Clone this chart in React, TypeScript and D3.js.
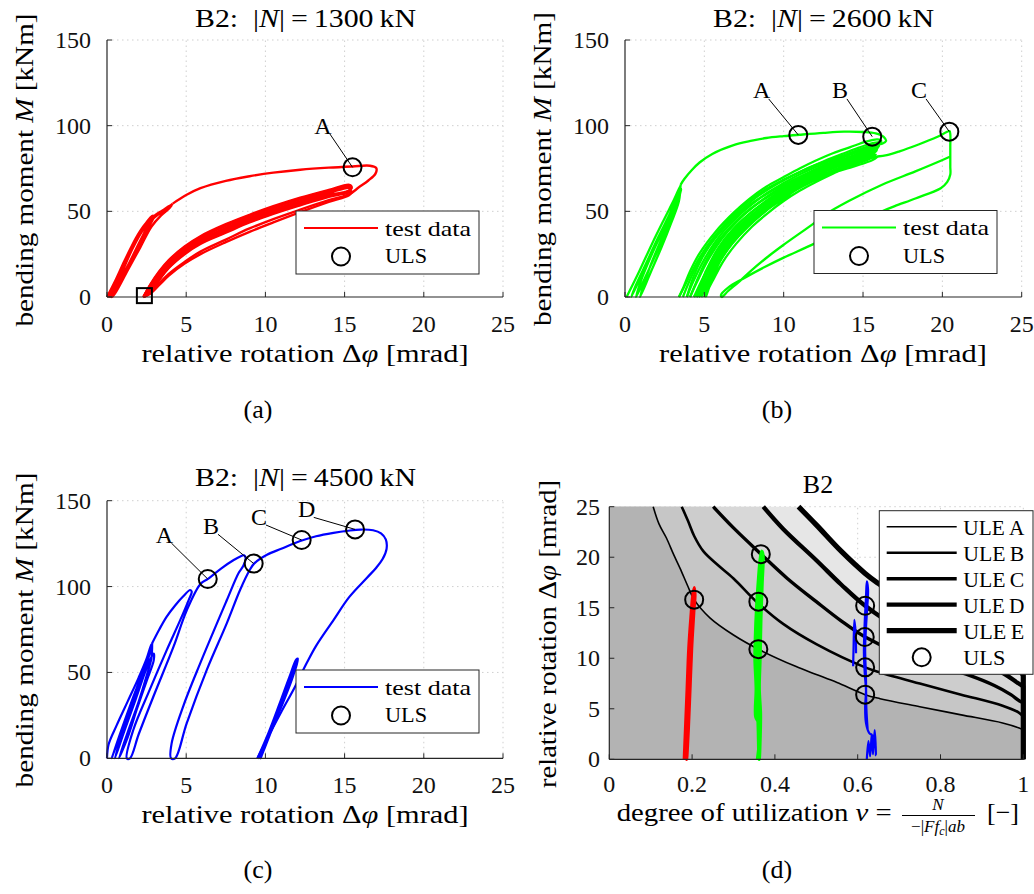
import React from "react";
import * as d3 from "d3";

type P = [number, number];

// ---------------- ticks ----------------
const rotTicks = [0, 5, 10, 15, 20, 25];
const momentTicks = [0, 50, 100, 150];
const nuTicks = [0, 0.2, 0.4, 0.6, 0.8, 1];
const nuTickLabels = ["0", "0.2", "0.4", "0.6", "0.8", "1"];
const phiTicks = [0, 5, 10, 15, 20, 25];

// ---------------- panel (a): |N| = 1300 kN ----------------
const redInitial: P[] = [[0,0],[0.5,9],[1.1,21],[1.7,32],[2.3,41],[2.75,46.5],[2.9,47.5],[2.7,44],[2.0,31],[1.3,18],[0.6,6],[0.15,0],[0.6,10],[1.2,22.5],[1.8,34],[2.4,42.5],[2.8,46],[2.95,46.5],[2.7,42],[2.1,31.5],[1.4,19.5],[0.7,7.5],[0.25,0],[0.75,12],[1.35,24.5],[1.95,35.5],[2.55,43.5],[3.0,47.5],[3.5,50.5],[4.1,54],[3.95,52],[3.4,47.5],[2.8,41],[2.1,29],[1.3,15.5],[0.5,2],[0.3,0],[0.95,14.5],[1.6,28],[2.3,39.5],[3.0,46.5],[3.6,50.5],[4.15,54.5]];
const redEnvelope: P[] = [[4.15,54.5],[5.0,59.5],[5.9,63.5],[7.5,67.8],[9,70.5],[10.5,72.6],[12.2,74.3],[14,75.5],[15.5,76.2],[16.6,76.6],[17.0,75.2],[16.95,72],[16.5,68],[15.9,64],[15.3,60],[14,56.5],[12.2,51],[10.5,45.5],[9,40],[7.5,33.5],[5.9,26.5],[4.9,20.5],[3.9,13.5],[3.3,8],[2.75,2.5],[2.3,0]];
const redReload: P[] = [[2.3,0],[2.75,2],[3.3,7],[3.9,12.5],[4.9,19.5],[5.9,25],[7.5,32],[9,38],[10.5,43.5],[12.2,49.5],[14,55.5],[15.3,59.5],[15.5,62]];
const redBandLoops: P[][] = [
  [[2.3,0],[2.75,7.5],[3.3,15],[3.9,21.5],[4.9,29.5],[5.9,35.5],[7.5,42.5],[9,48],[10.5,53],[12.2,58],[14,62.5],[15.3,65.5],[15.45,64],[15.25,62],[14,59.5],[12.2,54.5],[10.5,49.5],[9,44.5],[7.5,38.5],[5.9,32],[4.9,26],[3.9,17.5],[3.3,10.5],[2.75,3],[2.3,0]],
  [[2.3,0],[2.75,7.2],[3.3,14.5],[3.9,21],[4.9,29],[5.9,35],[7.5,42],[9,47.5],[10.5,52.5],[12.2,57.5],[14,62],[15.3,65],[15.42,63.5],[15.2,61.5],[14,59],[12.2,54],[10.5,49],[9,44],[7.5,38],[5.9,31.5],[4.9,25.5],[3.9,17.2],[3.3,10.2],[2.75,2.7],[2.3,0]],
  [[2.3,0],[2.75,7],[3.3,14],[3.9,20.5],[4.9,28.5],[5.9,34.5],[7.5,41.5],[9,47],[10.5,52],[12.2,57],[14,61.5],[15.3,64.5],[15.4,63],[15.15,61],[14,58.5],[12.2,53.5],[10.5,48.5],[9,43.5],[7.5,37.5],[5.9,31],[4.9,25],[3.9,17],[3.3,10],[2.75,2.5],[2.3,0]],
  [[2.3,0],[2.75,5.5],[3.3,12.5],[3.9,19.5],[4.9,27.5],[5.9,33.5],[7.5,40.3],[9,46],[10.5,51],[12.2,56],[14,60.7],[15.3,63.7],[15.38,62.5],[15.1,60.5],[14,60],[12.2,55.2],[10.5,50.2],[9,45.3],[7.5,39.5],[5.9,32.8],[4.9,26.8],[3.9,18.5],[3.3,11.2],[2.75,4],[2.3,0]]
];
const ulsA: P[] = [[15.5, 75.7]];
const ulsALabels = ["A"];
const squareA: P[] = [[2.36, 0.8]];

// ---------------- panel (b): |N| = 2600 kN ----------------
const greenInitial: P[] = [[0.1,0],[0.9,15],[1.7,31],[2.5,46],[3.1,57],[3.5,65],[3.4,61],[2.9,50],[2.1,35],[1.3,19],[0.6,5],[0.4,0],[1.1,14],[1.9,30],[2.7,46],[3.3,59],[3.5,64],[3.25,56],[2.45,40],[1.65,24],[0.95,8],[0.7,0],[1.35,13],[2.1,28],[2.8,43],[3.3,55],[3.55,63],[3.15,52],[2.35,35],[1.55,17],[0.95,0],[1.6,14],[2.3,29],[2.9,43],[3.4,56],[3.5,65.5]];
const greenEnvelope: P[] = [[3.5,65.5],[3.75,69],[4.2,74],[4.7,78.5],[5.5,83.5],[6.8,88.5],[8.0,91.2],[8.9,92.8],[10,93.9],[11,94.7],[12.5,95.8],[13.8,96.5],[15,96.3],[15.8,95.5],[16.3,93.5],[16.45,91],[16.2,89.5],[15.8,88.8],[15.2,87],[14.2,84],[13.1,80.5],[12,77],[11,73],[10,68.5],[8.9,63],[7.8,56],[6.8,47.5],[5.7,36],[4.7,23],[3.9,9],[3.4,0]];
const greenBandLoops: P[][] = [
  [[3.4,0],[3.7,6],[4.1,15],[4.7,25.5],[5.7,38],[6.8,48.8],[7.8,57],[8.9,64.4],[10,70],[11,75],[12,79.5],[13.1,83.9],[14.2,87.5],[15.2,90.7],[15.9,92],[16.15,91],[15.8,87.5],[15.2,85],[14.2,81.5],[13.1,78],[12,74],[11,70],[10,65.5],[8.9,60],[7.8,53.5],[6.8,45.5],[5.7,34.5],[4.9,23.5],[4.3,11.5],[3.9,0]],
  [[3.65,0],[4.0,8],[4.55,19],[5.3,31],[6.3,42],[7.4,51.5],[8.4,59],[9.5,65.5],[10.5,70.5],[11.5,75],[12.6,79.5],[13.7,83.5],[14.7,87],[15.6,89.8],[16.05,90],[15.7,86.5],[15.2,84],[14.2,80.8],[13.1,77],[12,73],[11,68.8],[10,63.8],[8.9,57.8],[7.8,50.8],[6.8,42.5],[5.8,31.8],[5.05,20.3],[4.45,7.8],[4.1,0]],
  [[3.9,0],[4.3,9],[5.0,22],[6.0,36],[7.0,46],[8.0,54],[9.0,61],[10,66.5],[11,71.5],[12,75.8],[13.1,80],[14.2,84],[15.2,87.5],[15.9,89],[16.0,88],[15.5,85],[14.2,80],[13.1,76],[12,72],[11,67.5],[10,62],[8.9,55.5],[7.8,48],[6.8,39.5],[5.9,29],[5.2,17],[4.6,4],[4.35,0]],
  [[4.1,0],[4.55,9],[5.2,21],[6.1,34],[7.05,44],[8.05,52.3],[9.05,59.3],[10,64.8],[11,70],[12,74.6],[13.1,79],[14.2,83],[15.2,86.5],[15.85,88],[15.9,86.8],[15.4,83.7],[14.2,79],[13.1,75],[12,71],[11,66.5],[10,61],[8.9,54.3],[7.8,46.5],[6.8,38],[5.95,28],[5.3,16.3],[4.75,3.8],[4.5,0]],
  [[4.35,0],[4.8,9],[5.4,20],[6.2,32],[7.1,42],[8.1,50.5],[9.1,57.5],[10,63],[11,68.5],[12,73.5],[13.1,78],[14.2,82],[15.2,85.5],[15.8,87],[15.85,85.5],[15.3,82.5],[14.2,78],[13.1,74],[12,70],[11,65.5],[10,60],[8.9,53],[7.8,45],[6.8,36.5],[6.0,27],[5.4,15.5],[4.9,3.5],[4.65,0]],
  [[4.5,0],[4.95,9],[5.55,20],[6.35,31.5],[7.25,41.2],[8.25,49.7],[9.2,56.5],[10.1,62],[11,67],[12,72],[13.1,76.8],[14.2,80.8],[15.2,84.5],[15.75,86],[15.7,84.2],[15.2,81.3],[14.2,77.5],[13.1,73.5],[12,69.5],[11,65],[10,59.3],[8.9,52],[7.8,43.8],[6.8,35],[6.0,25],[5.4,13.3],[4.95,3.6],[4.8,0]],
  [[4.65,0],[5.1,9],[5.7,20],[6.5,31],[7.4,40.5],[8.4,49],[9.3,55.5],[10.2,61],[11,65.5],[12,70.5],[13.1,75.5],[14.2,79.5],[15.2,83.5],[15.7,85],[15.6,83],[15.1,80.5],[14.2,77],[13.1,73],[12,69],[11,64.5],[10,58.5],[8.9,51],[7.8,42.5],[6.8,33.5],[6.0,23],[5.4,11],[5.0,0]],
  [[4.8,0],[5.3,9],[5.95,20.5],[6.75,31],[7.7,40.8],[8.7,49],[9.65,55.8],[10.6,61.5],[11.5,66],[12.5,70.8],[13.6,75.5],[14.7,79.5],[15.55,82.5],[15.8,83.2],[15.6,81.5],[15.15,79.5],[14.2,76.2],[13.1,72.7],[12,68.7],[11,64.2],[10,58],[8.9,50.7],[7.8,42],[6.8,32.7],[6.0,22],[5.4,9.5],[5.05,0]],
  [[5.0,0],[5.5,9],[6.2,21],[7.0,31],[8.0,41],[9.0,49],[10,56],[11,62],[12,67],[13.1,72],[14.2,76.5],[15.2,80.5],[15.9,82],[15.6,80],[15.2,78.5],[14.2,75.5],[13.1,72.5],[12,68.5],[11,64],[10,57.5],[8.9,50.5],[7.8,41.5],[6.8,32],[6.0,21],[5.4,8],[5.1,0]]
];
const greenToC: P[] = [[15.9,82],[16.5,82.8],[17.3,85],[18.5,89],[19.7,93.5],[20.45,96.8],[20.5,95],[20.5,88],[20.5,82],[20.5,76],[20.5,71.5],[20.3,67],[19.9,63.5],[18.3,57.5],[17,53],[16.2,50],[14,41],[11.9,31],[10,23],[8.8,17.5],[7.5,11],[6.5,5.5],[6.05,1.2],[6.1,0],[6.5,3.5],[7.2,9],[7.9,15],[9,23.5],[10,30.5],[11.9,43],[12.6,48],[14.1,56],[16.2,65.5],[18.3,73.3],[19.9,79.5],[20.5,82]];
const ulsB: P[] = [[10.92, 94.6], [15.58, 93.6], [20.44, 96.5]];
const ulsBLabels = ["A", "B", "C"];

// ---------------- panel (c): |N| = 4500 kN ----------------
const blueInitial: P[] = [[0,0],[0.1,8],[0.6,19],[1.3,33],[2.0,47],[2.5,58],[2.8,66.5],[2.7,61],[2.2,48],[1.5,31],[0.8,13],[0.3,0],[0.85,15],[1.55,33],[2.2,49],[2.6,59.5],[2.85,67],[2.75,63],[2.3,51],[1.7,35],[1.0,16],[0.5,0],[1.1,16],[1.8,34],[2.4,50],[2.75,58],[2.95,61],[2.95,57],[2.5,45],[1.9,29],[1.3,12],[0.75,0],[1.3,15],[2.0,33],[2.5,48],[2.8,58],[2.85,67]];
const blueEnvelope: P[] = [[2.85,67],[3.3,75],[3.77,82.5],[4.3,89],[4.8,94.2],[5.25,98],[5.35,97],[5.15,92],[4.6,80],[3.77,63],[2.7,40],[1.66,16.5],[1.25,0],[1.45,0],[2.0,14],[2.93,36],[4.2,65],[5.03,86],[5.9,101.5],[6.4,104.6],[7.2,110.5],[8.0,115.5],[8.45,117.7],[8.65,118.2],[8.75,116.5],[8.6,112],[8.3,107.8],[7.56,92],[5.87,55],[4.8,30],[4.08,8.7],[4.04,0],[4.3,0],[5.03,20.4],[6.3,51.5],[7.56,78.6],[8.4,98],[9.0,109.5],[9.3,113.5],[10.1,118.5],[11,122],[12.2,126.5],[13.2,129.3],[14.3,131.3],[15.2,132.5],[16,133.2],[16.8,132.8],[17.3,131],[17.6,127.5],[17.65,122],[17.4,116],[17.0,111],[16.4,105],[15.3,94],[14.3,80.5],[13.2,65.5],[12.6,55.3],[11.87,41.7],[11,27],[10.2,13],[9.5,0]];
const blueFinal: P[] = [[9.5,0],[10.2,15],[10.9,32],[11.5,47],[11.95,57.5],[12.05,58],[11.9,52],[11.3,38],[10.6,22],[9.9,6],[9.6,0],[10.3,17],[11,34],[11.6,49],[12.0,57],[11.75,48],[11.05,31],[10.25,13],[9.7,0],[10.4,17],[11.1,35],[11.7,50],[12.0,55]];
const ulsC: P[] = [[6.36, 104.4], [9.26, 113.4], [12.29, 127.1], [15.66, 133.3]];
const ulsCLabels = ["A", "B", "C", "D"];

// ---------------- panel (d): utilization vs rotation ----------------
const uleA: P[] = [[0.106,25],[0.12,23.3],[0.138,21.9],[0.155,20.3],[0.171,18.9],[0.19,17.1],[0.205,15.8],[0.243,14.0],[0.3,12.3],[0.36,10.9],[0.45,9.2],[0.5,8.4],[0.55,7.6],[0.618,6.4],[0.654,6.0],[0.75,5.2],[0.85,4.4],[0.95,3.6],[0.99,3.1],[1.0,2.9]];
const uleB: P[] = [[0.175,25],[0.19,23.6],[0.205,22.1],[0.227,20.6],[0.26,19.3],[0.3,17.9],[0.358,15.5],[0.42,13.4],[0.5,11.4],[0.618,9.1],[0.654,8.6],[0.75,7.5],[0.85,6.4],[0.95,5.3],[0.99,4.6],[1.0,4.2]];
const uleC: P[] = [[0.251,25],[0.3,22.9],[0.364,20.4],[0.43,17.9],[0.5,15.6],[0.56,13.7],[0.618,12.1],[0.7,10.5],[0.8,9.2],[0.87,8.3],[0.93,7.3],[0.97,6.4],[0.99,5.8],[1.0,5.6]];
const uleD: P[] = [[0.372,25],[0.42,22.8],[0.5,19.7],[0.56,17.3],[0.618,15.2],[0.7,13.0],[0.8,11.3],[0.9,9.7],[0.96,8.3],[0.985,7.6],[1.0,7.2]];
const uleE: P[] = [[0.457,25],[0.5,23.2],[0.56,20.6],[0.618,18.4],[0.65,17.4],[0.75,14.6],[0.85,12.2],[0.95,10.1],[0.99,8.9],[1.0,8.3]];
const uleNames = ["ULE\u2009A", "ULE\u2009B", "ULE\u2009C", "ULE\u2009D", "ULE\u2009E"];
const redNu: P[] = [[0.181,0],[0.184,3],[0.188,7],[0.192,11],[0.197,14],[0.201,16],[0.205,17],[0.207,16.3],[0.204,14.5],[0.199,11],[0.195,7],[0.191,3],[0.187,0],[0.19,3.5],[0.195,8],[0.199,12],[0.203,15],[0.206,16.5]];
const greenNu: P[] = [[0.358,0],[0.362,1.5],[0.361,3.6],[0.354,4.2],[0.355,7],[0.352,10],[0.353,12],[0.356,15],[0.36,17.5],[0.364,19.5],[0.368,20.6],[0.371,20.2],[0.369,17.5],[0.366,14],[0.364,10],[0.362,7],[0.365,4.5],[0.364,2],[0.362,0],[0.36,3],[0.358,6],[0.358,10],[0.36,14],[0.364,18],[0.369,20.5]];
const blueNu: P[] = [[0.622,0],[0.626,1.8],[0.63,0.3],[0.634,2.5],[0.637,0.5],[0.641,2.9],[0.644,0.4],[0.64,2.2],[0.628,2.6],[0.62,3.6],[0.618,5.2],[0.62,6.8],[0.617,8.5],[0.615,10.5],[0.616,12.5],[0.618,14.5],[0.62,16],[0.622,17.6],[0.625,16.8],[0.623,15],[0.62,13],[0.618,11],[0.62,8],[0.621,5],[0.624,3]];
const blueNu2: P[] = [[0.589,9.2],[0.59,11],[0.592,13.8],[0.595,12.5],[0.596,10.5]];
const ulsD: P[] = [[0.205,15.8],[0.36,10.9],[0.36,15.6],[0.366,20.3],[0.618,6.4],[0.618,9.1],[0.617,12.1],[0.618,15.2]];

// ---------------- layout / style ----------------
const FONT = "'Liberation Serif', 'Times New Roman', serif";
const AX = "#262626";
const GRID = "#cfcfcf";
const RED = "#ff0000", GREEN = "#00ff00", BLUE = "#0000ff";

type Scale = d3.ScaleLinear<number, number>;

const xa = d3.scaleLinear().domain([0, 25]).range([107, 503]);
const ya = d3.scaleLinear().domain([0, 150]).range([297, 40]);
const xb = d3.scaleLinear().domain([0, 25]).range([625, 1021.7]);
const yb = d3.scaleLinear().domain([0, 150]).range([297, 40]);
const xc = d3.scaleLinear().domain([0, 25]).range([107, 503]);
const yc = d3.scaleLinear().domain([0, 150]).range([758.3, 500.7]);
const xd = d3.scaleLinear().domain([0, 1]).range([609.3, 1023.3]);
const yd = d3.scaleLinear().domain([0, 25]).range([759.3, 506.7]);

function smooth(x: Scale, y: Scale) {
  return d3.line<P>().x(d => x(d[0])).y(d => y(d[1])).curve(d3.curveCatmullRom.alpha(0.5));
}

function Grid({ x, y, xt, yt }: { x: Scale; y: Scale; xt: number[]; yt: number[] }) {
  const [x0, x1] = x.domain();
  const [y0, y1] = y.domain();
  return (
    <g stroke={GRID} strokeWidth={1} strokeDasharray="1.5,3.5">
      {xt.filter(t => t !== x0).map(t => (
        <line key={"gx" + t} x1={x(t)} x2={x(t)} y1={y(y0)} y2={y(y1)} />
      ))}
      {yt.filter(t => t !== y0).map(t => (
        <line key={"gy" + t} x1={x(x0)} x2={x(x1)} y1={y(t)} y2={y(t)} />
      ))}
    </g>
  );
}

function Axes({ x, y, xt, xl, yt, yl, yRight, xBase }: { x: Scale; y: Scale; xt: number[]; xl: string[]; yt: number[]; yl: string[]; yRight: number; xBase: number }) {
  const [x0, x1] = x.domain();
  const [y0, y1] = y.domain();
  return (
    <g>
      <line x1={x(x0)} x2={x(x0)} y1={y(y0)} y2={y(y1)} stroke={AX} strokeWidth={1.2} />
      <line x1={x(x0)} x2={x(x1)} y1={y(y0)} y2={y(y0)} stroke={AX} strokeWidth={1.2} />
      {xt.map(t => (
        <line key={"tx" + t} x1={x(t)} x2={x(t)} y1={y(y0)} y2={y(y0) - 5} stroke={AX} strokeWidth={1} />
      ))}
      {yt.map(t => (
        <line key={"ty" + t} x1={x(x0)} x2={x(x0) + 5} y1={y(t)} y2={y(t)} stroke={AX} strokeWidth={1} />
      ))}
      {xt.map((t, i) => (
        <text key={"lx" + t} x={x(t)} y={xBase} textAnchor="middle" fontSize={24} fontFamily={FONT} fill="#111">{xl[i]}</text>
      ))}
      {yt.map((t, i) => (
        <text key={"ly" + t} x={yRight} y={y(t) + 8} textAnchor="end" fontSize={24} fontFamily={FONT} fill="#111">{yl[i]}</text>
      ))}
    </g>
  );
}

function Markers({ x, y, pts, labels, offs }: { x: Scale; y: Scale; pts: P[]; labels?: string[]; offs?: P[] }) {
  return (
    <g>
      {pts.map((p, i) => {
        const cx = x(p[0]), cy = y(p[1]);
        const lab = labels && labels[i];
        const off = offs && offs[i];
        return (
          <g key={i}>
            {lab && off ? (
              <g>
                <line x1={cx + off[0] + 7} y1={cy + off[1] + 9} x2={cx} y2={cy} stroke="#000" strokeWidth={1} />
                <text x={cx + off[0]} y={cy + off[1] + 8.5} textAnchor="middle" fontSize={24} fontFamily={FONT} fill="#000">{lab}</text>
              </g>
            ) : null}
            <circle cx={cx} cy={cy} r={9} fill="none" stroke="#000" strokeWidth={2} />
          </g>
        );
      })}
    </g>
  );
}

function TestLegend({ bx, by, color }: { bx: number; by: number; color: string }) {
  return (
    <g fontFamily={FONT}>
      <rect x={bx} y={by} width={183} height={63} fill="#fff" stroke={AX} strokeWidth={1} />
      <line x1={bx + 8} x2={bx + 82} y1={by + 17} y2={by + 17} stroke={color} strokeWidth={2.2} />
      <text x={bx + 89} y={by + 24.5} fontSize={22} textLength={86} lengthAdjust="spacingAndGlyphs" fill="#000">test data</text>
      <circle cx={bx + 45} cy={by + 45.5} r={9} fill="none" stroke="#000" strokeWidth={2} />
      <text x={bx + 89} y={by + 52} fontSize={22} textLength={42} lengthAdjust="spacingAndGlyphs" fill="#000">ULS</text>
    </g>
  );
}

const rotLabel = (
  <>relative rotation {"\u0394"}<tspan fontStyle="italic">{"\u03C6"}</tspan> [mrad]</>
);
const momLabel = (
  <>bending moment <tspan fontStyle="italic">M</tspan> [kNm]</>
);

function Title({ cx, base, n }: { cx: number; base: number; n: string }) {
  return (
    <text x={cx} y={base} textAnchor="middle" fontSize={26} fontFamily={FONT} textLength={221} lengthAdjust="spacingAndGlyphs" fill="#000">
      B2:{"\u2002"}|<tspan fontStyle="italic">N</tspan>|{"\u2009"}={"\u2009"}{n}{"\u2009"}kN
    </text>
  );
}

export default function App() {
  const la = smooth(xa, ya);
  const lb = smooth(xb, yb);
  const lc = smooth(xc, yc);
  const ld = smooth(xd, yd);
  const ules = [uleA, uleB, uleC, uleD, uleE];
  const uleW = [1.6, 2.6, 3.4, 4.3, 5.2];
  const fills = ["#b3b3b3", "#c6c6c6", "#cdcdcd", "#d8d8d8", "#e6e6e6"];
  const curvePath = (pts: P[]) => (ld(pts) as string) + `L${xd(1)},${yd(0)}`;
  const fillPath = (pts: P[]) => (ld(pts) as string) + `L${xd(1)},${yd(0)}L${xd(0)},${yd(0)}L${xd(0)},${yd(25)}Z`;
  const momLabels = momentTicks.map(String);
  const rotLabels = rotTicks.map(String);
  const phiLabels = phiTicks.map(String);

  return (
    <svg width={1034} height={894} viewBox="0 0 1034 894" style={{ display: "block", position: "absolute", left: 0, top: 0, background: "#fff" }}>
      <rect x={0} y={0} width={1034} height={894} fill="#fff" />

      {/* ---------------- (a) ---------------- */}
      <Grid x={xa} y={ya} xt={rotTicks} yt={momentTicks} />
      <g fill="none" stroke={RED} strokeWidth={2.4} strokeLinejoin="round">
        <path d={la(redInitial) as string} />
        <path d={la(redEnvelope) as string} />
        <path d={la(redReload) as string} />
        {redBandLoops.map((l, i) => <path key={i} d={la(l) as string} />)}
      </g>
      <Axes x={xa} y={ya} xt={rotTicks} xl={rotLabels} yt={momentTicks} yl={momLabels} yRight={91} xBase={332} />
      {squareA.map((p, i) => (
        <rect key={i} x={xa(p[0]) - 7.5} y={ya(p[1]) - 7.5} width={15} height={15} fill="none" stroke="#000" strokeWidth={2} />
      ))}
      <Markers x={xa} y={ya} pts={ulsA} labels={ulsALabels} offs={[[-29.6, -42.3]]} />
      <TestLegend bx={296} by={211} color={RED} />
      <Title cx={305.5} base={26.5} n="1300" />
      <text transform="translate(33,170) rotate(-90)" textAnchor="middle" fontSize={26} fontFamily={FONT} textLength={313} lengthAdjust="spacingAndGlyphs">{momLabel}</text>
      <text x={305} y={362} textAnchor="middle" fontSize={26} fontFamily={FONT} textLength={327} lengthAdjust="spacingAndGlyphs">{rotLabel}</text>
      <text x={258} y={418} textAnchor="middle" fontSize={26} fontFamily={FONT}>(a)</text>

      {/* ---------------- (b) ---------------- */}
      <Grid x={xb} y={yb} xt={rotTicks} yt={momentTicks} />
      <g fill="none" stroke={GREEN} strokeWidth={2.3} strokeLinejoin="round">
        <path d={lb(greenInitial) as string} />
        <path d={lb(greenEnvelope) as string} />
        {greenBandLoops.map((l, i) => <path key={i} d={lb(l) as string} />)}
        <path d={lb(greenToC) as string} />
      </g>
      <Axes x={xb} y={yb} xt={rotTicks} xl={rotLabels} yt={momentTicks} yl={momLabels} yRight={609} xBase={332} />
      <Markers x={xb} y={yb} pts={ulsB} labels={ulsBLabels} offs={[[-36.6, -45], [-32.3, -46.7], [-30.3, -41.7]]} />
      <TestLegend bx={814} by={210.5} color={GREEN} />
      <Title cx={823.5} base={26.5} n="2600" />
      <text transform="translate(551,169) rotate(-90)" textAnchor="middle" fontSize={26} fontFamily={FONT} textLength={314} lengthAdjust="spacingAndGlyphs">{momLabel}</text>
      <text x={823} y={362} textAnchor="middle" fontSize={26} fontFamily={FONT} textLength={328} lengthAdjust="spacingAndGlyphs">{rotLabel}</text>
      <text x={777} y={418} textAnchor="middle" fontSize={26} fontFamily={FONT}>(b)</text>

      {/* ---------------- (c) ---------------- */}
      <Grid x={xc} y={yc} xt={rotTicks} yt={momentTicks} />
      <g fill="none" stroke={BLUE} strokeWidth={2.2} strokeLinejoin="round">
        <path d={lc(blueInitial) as string} />
        <path d={lc(blueEnvelope) as string} />
        <path d={lc(blueFinal) as string} />
      </g>
      <Axes x={xc} y={yc} xt={rotTicks} xl={rotLabels} yt={momentTicks} yl={momLabels} yRight={91} xBase={793} />
      <Markers x={xc} y={yc} pts={ulsC} labels={ulsCLabels} offs={[[-43.4, -45], [-42.7, -38.3], [-42.7, -24], [-48.3, -21]]} />
      <TestLegend bx={296} by={670} color={BLUE} />
      <Title cx={305.5} base={485.5} n="4500" />
      <text transform="translate(33,630) rotate(-90)" textAnchor="middle" fontSize={26} fontFamily={FONT} textLength={315} lengthAdjust="spacingAndGlyphs">{momLabel}</text>
      <text x={305} y={823} textAnchor="middle" fontSize={26} fontFamily={FONT} textLength={327} lengthAdjust="spacingAndGlyphs">{rotLabel}</text>
      <text x={258} y={878} textAnchor="middle" fontSize={26} fontFamily={FONT}>(c)</text>

      {/* ---------------- (d) ---------------- */}
      <Grid x={xd} y={yd} xt={nuTicks} yt={phiTicks} />
      {[4, 3, 2, 1, 0].map(i => (
        <path key={"f" + i} d={fillPath(ules[i])} fill={fills[i]} stroke="none" />
      ))}
      <g fill="none" stroke="#000" strokeLinejoin="round">
        {ules.map((u, i) => <path key={"u" + i} d={curvePath(u)} strokeWidth={uleW[i]} />)}
      </g>
      <g fill="none" strokeLinejoin="round">
        <path d={ld(redNu) as string} stroke={RED} strokeWidth={3.2} />
        <path d={ld(greenNu) as string} stroke={GREEN} strokeWidth={3.5} />
        <path d={ld(blueNu) as string} stroke={BLUE} strokeWidth={2.2} />
        <path d={ld(blueNu2) as string} stroke={BLUE} strokeWidth={2.2} />
      </g>
      <Axes x={xd} y={yd} xt={nuTicks} xl={nuTickLabels} yt={phiTicks} yl={phiLabels} yRight={600} xBase={792} />
      <Markers x={xd} y={yd} pts={ulsD} />
      <g fontFamily={FONT}>
        <rect x={879.3} y={510.7} width={153.7} height={163.6} fill="#fff" stroke={AX} strokeWidth={1} />
        {uleNames.map((n, i) => (
          <g key={n}>
            <line x1={886.7} x2={956.7} y1={526.7 + i * 26} y2={526.7 + i * 26} stroke="#000" strokeWidth={uleW[i]} />
            <text x={963.3} y={534.5 + i * 26} fontSize={22} textLength={61} lengthAdjust="spacingAndGlyphs" fill="#000">{n}</text>
          </g>
        ))}
        <circle cx={921.7} cy={657.3} r={9} fill="none" stroke="#000" strokeWidth={2} />
        <text x={963.3} y={664.5} fontSize={22} textLength={42} lengthAdjust="spacingAndGlyphs" fill="#000">ULS</text>
      </g>
      <text x={818} y={492.5} textAnchor="middle" fontSize={26} fontFamily={FONT}>B2</text>
      <text transform="translate(556,634) rotate(-90)" textAnchor="middle" fontSize={26} fontFamily={FONT} textLength={308} lengthAdjust="spacingAndGlyphs">{rotLabel}</text>
      <g fontFamily={FONT} fill="#000">
        <text x={616.7} y={821} fontSize={26} textLength={275} lengthAdjust="spacingAndGlyphs">
          degree of utilization <tspan fontStyle="italic">{"\u03BD"}</tspan> =
        </text>
        <text x={938} y={810} fontSize={17} textAnchor="middle" fontStyle="italic">N</text>
        <line x1={902} x2={975} y1={815.5} y2={815.5} stroke="#000" strokeWidth={1} />
        <text x={938} y={832} fontSize={17} textAnchor="middle">
          {"\u2212"}|<tspan fontStyle="italic">Ff</tspan><tspan fontStyle="italic" fontSize={12} dy={3}>c</tspan><tspan dy={-3}>|</tspan><tspan fontStyle="italic">ab</tspan>
        </text>
        <text x={987} y={821} fontSize={26}>[{"\u2212"}]</text>
      </g>
      <text x={777} y={878} textAnchor="middle" fontSize={26} fontFamily={FONT}>(d)</text>
    </svg>
  );
}
